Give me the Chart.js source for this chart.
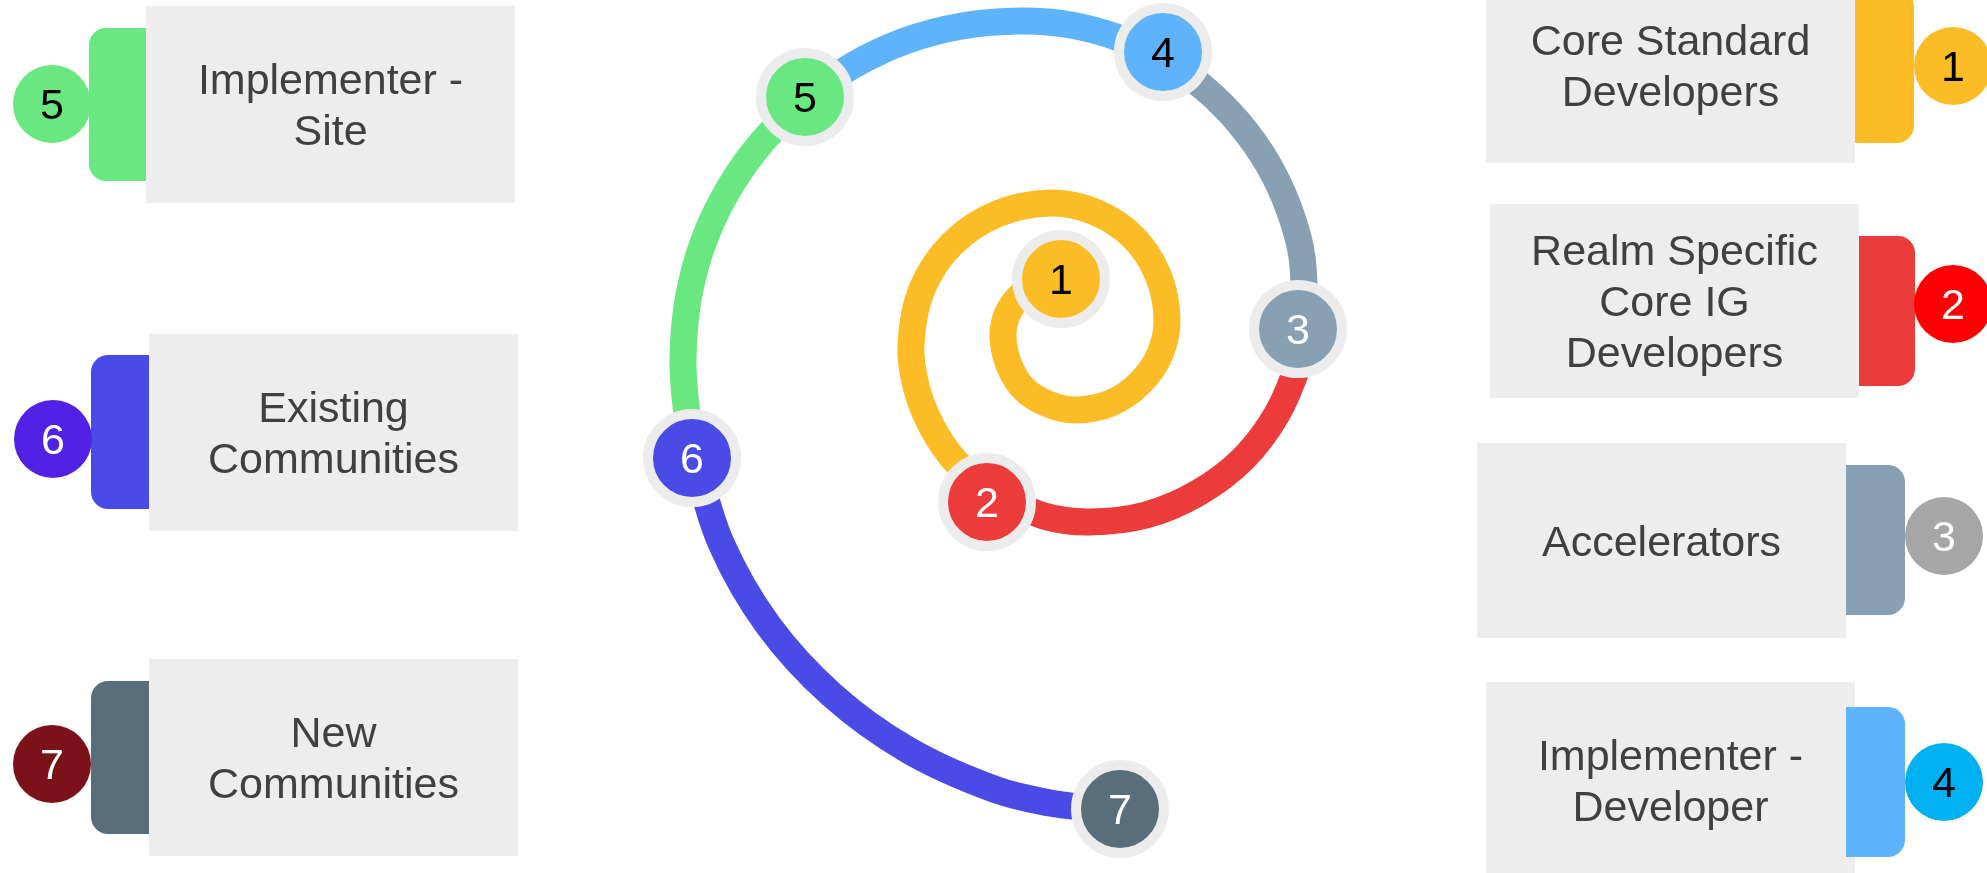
<!DOCTYPE html>
<html>
<head>
<meta charset="utf-8">
<script src="https://cdn.jsdelivr.net/npm/chart.js@4.4.0/dist/chart.umd.min.js"></script>
<style>
  html, body { margin: 0; padding: 0; background: #fff; }
  #spiral { display: block; }
</style>
</head>
<body>
<canvas id="spiral" width="1987" height="873"></canvas>
<script>
// steps, in spiral order
const stepNumbers = ['1', '2', '3', '4', '5', '6', '7'];
const stepLabels = [
  ['Core Standard', 'Developers'],
  ['Realm Specific', 'Core IG', 'Developers'],
  ['Accelerators'],
  ['Implementer -', 'Developer'],
  ['Implementer -', 'Site'],
  ['Existing', 'Communities'],
  ['New', 'Communities'],
];

// spiral stops (x right, y down)
const nodeX = [1061, 987, 1298, 1163, 805, 692, 1120];
const nodeY = [279, 502, 329, 52, 97, 458, 809];

// points along the spiral, one list per coloured stretch (stop n -> stop n+1)
const path12 = [[1061, 279], [1039, 283], [1020, 296], [1007, 315], [1003, 337], [1009, 365],
  [1024, 389], [1048, 404], [1076, 410], [1111, 403], [1140, 383], [1160, 354], [1167, 319],
  [1158, 275], [1133, 237], [1095, 212], [1051, 203], [997, 214], [952, 244], [922, 289],
  [911, 343], [916, 386], [932, 427], [957, 463], [993, 493]];
const path23 = [[993, 493], [1044, 516], [1090, 522], [1146, 515], [1198, 493], [1243, 459],
  [1277, 414], [1299, 362], [1305, 330]];
const path34 = [[1305, 330], [1302, 257], [1289, 209], [1268, 164], [1239, 123], [1204, 88],
  [1160, 57]];
const path45 = [[1160, 57], [1119, 38], [1071, 25], [1021, 21], [962, 26], [905, 41],
  [852, 66], [806, 98]];
const path56 = [[806, 98], [762, 142], [728, 190], [703, 243], [688, 300], [683, 359],
  [686, 406], [694, 457]];
const path67 = [[694, 457], [721, 543], [768, 625], [832, 695], [908, 750], [994, 789],
  [1056, 804], [1118, 810]];
const paths = [path12, path23, path34, path45, path56, path67];

// styles
const nodeFill = ['#fbbc26', '#ec3b3b', '#88a0b4', '#5fb3fb', '#69e882', '#4a4ae6', '#586f7b'];
const nodeInk = ['#000', '#fff', '#fff', '#000', '#000', '#fff', '#fff'];
const badgeFill = ['#fbbc26', '#ff0000', '#a6a6a6', '#00b0f0', '#69e882', '#5122e6', '#7b1219'];
const FONT = '43px "Liberation Sans", Arial, sans-serif';
const CAP = 15.4;   // half cap height for the font above
const LINE = 51;

// card layout: gray box, coloured tab, numbered badge
const cards = [
  { side: 'right', box: [1486, -32, 369, 195], tab: [1855, 1914, -10, 143], badge: [1953, 66] },
  { side: 'right', box: [1490, 204, 369, 194], tab: [1859, 1915, 236, 386], badge: [1953, 304] },
  { side: 'right', box: [1477, 443, 369, 195], tab: [1846, 1905, 465, 615], badge: [1944, 536] },
  { side: 'right', box: [1486, 682, 369, 197], tab: [1846, 1905, 707, 857], badge: [1944, 782] },
  { side: 'left', box: [146, 6, 369, 197], tab: [89, 146, 28, 181], badge: [52, 104] },
  { side: 'left', box: [149, 334, 369, 197], tab: [91, 149, 355, 509], badge: [53, 439] },
  { side: 'left', box: [149, 659, 369, 197], tab: [91, 149, 681, 834], badge: [52, 764] },
];

function tabPath(ctx, x0, x1, y0, y1, r, side) {
  ctx.beginPath();
  if (side === 'left') {
    ctx.moveTo(x1, y0);
    ctx.lineTo(x0 + r, y0);
    ctx.arcTo(x0, y0, x0, y0 + r, r);
    ctx.lineTo(x0, y1 - r);
    ctx.arcTo(x0, y1, x0 + r, y1, r);
    ctx.lineTo(x1, y1);
  } else {
    ctx.moveTo(x0, y0);
    ctx.lineTo(x1 - r, y0);
    ctx.arcTo(x1, y0, x1, y0 + r, r);
    ctx.lineTo(x1, y1 - r);
    ctx.arcTo(x1, y1, x1 - r, y1, r);
    ctx.lineTo(x0, y1);
  }
  ctx.closePath();
}

const cardsPlugin = {
  id: 'cards',
  beforeDatasetsDraw(chart) {
    const { ctx } = chart;
    const sx = (v) => chart.scales.x.getPixelForValue(v);
    const sy = (v) => chart.scales.y.getPixelForValue(v);
    ctx.save();
    cards.forEach((c, i) => {
      const [bx, by, bw, bh] = c.box;
      ctx.fillStyle = '#ededed';
      ctx.fillRect(sx(bx), sy(by), sx(bx + bw) - sx(bx), sy(by + bh) - sy(by));

      const [t0, t1, t2, t3] = c.tab;
      ctx.fillStyle = nodeFill[i];
      tabPath(ctx, sx(t0), sx(t1), sy(t2), sy(t3), 17, c.side);
      ctx.fill();

      ctx.fillStyle = badgeFill[i];
      ctx.beginPath();
      ctx.arc(sx(c.badge[0]), sy(c.badge[1]), 39, 0, Math.PI * 2);
      ctx.fill();

      ctx.font = FONT;
      ctx.textAlign = 'center';
      ctx.textBaseline = 'alphabetic';
      ctx.fillStyle = nodeInk[i];
      ctx.fillText(stepNumbers[i], sx(c.badge[0]), sy(c.badge[1]) + CAP);

      ctx.fillStyle = '#404040';
      const lines = stepLabels[i];
      const cx = sx(bx + bw / 2);
      const cy = sy(by + bh / 2);
      lines.forEach((txt, k) => {
        const y = cy - ((lines.length - 1) * LINE) / 2 + k * LINE + CAP;
        ctx.fillText(txt, cx, y);
      });
    });
    ctx.restore();
  },
  afterDatasetsDraw(chart) {
    const { ctx } = chart;
    const meta = chart.getDatasetMeta(0);
    ctx.save();
    ctx.font = FONT;
    ctx.textAlign = 'center';
    ctx.textBaseline = 'alphabetic';
    meta.data.forEach((pt, i) => {
      ctx.fillStyle = nodeInk[i];
      ctx.fillText(stepNumbers[i], pt.x, pt.y + CAP);
    });
    ctx.restore();
  },
};

const nodes = nodeX.map((x, i) => ({ x, y: nodeY[i] }));
const segments = paths.map((p, i) => ({
  data: p.map(([x, y]) => ({ x, y })),
  showLine: true,
  borderColor: nodeFill[i],
  borderWidth: 27,
  pointRadius: 0,
  tension: 0.35,
  fill: false,
}));

new Chart(document.getElementById('spiral'), {
  type: 'scatter',
  data: {
    datasets: [
      {
        data: nodes,
        showLine: false,
        pointRadius: 44,
        pointBorderWidth: 10,
        pointBorderColor: '#ececec',
        pointBackgroundColor: nodeFill,
      },
      ...segments,
    ],
  },
  options: {
    responsive: false,
    devicePixelRatio: 1,
    animation: false,
    events: [],
    layout: { padding: 0, autoPadding: false },
    plugins: { legend: { display: false }, tooltip: { enabled: false } },
    scales: {
      x: { type: 'linear', min: 0, max: 1987, display: false },
      y: { type: 'linear', min: 0, max: 873, reverse: true, display: false },
    },
  },
  plugins: [cardsPlugin],
});
</script>
</body>
</html>
